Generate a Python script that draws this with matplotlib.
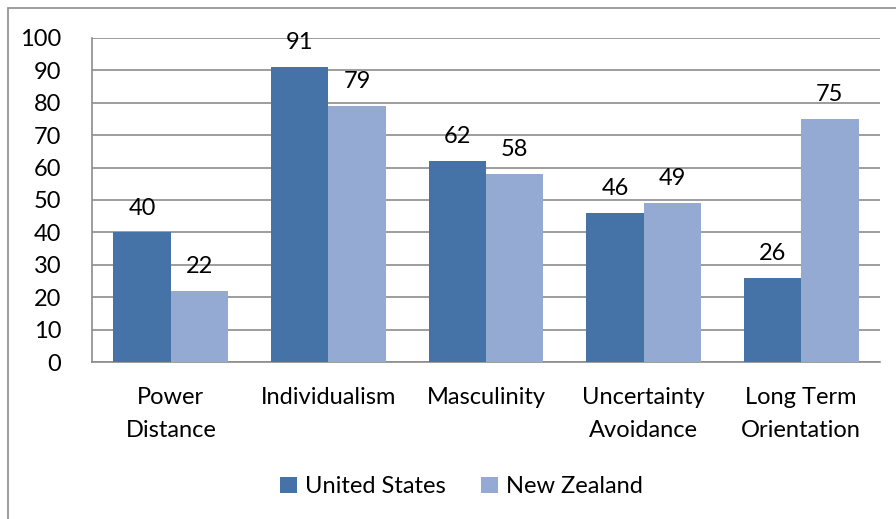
import matplotlib.pyplot as plt
import numpy as np
from matplotlib.patches import Rectangle

categories = ['Power\nDistance', 'Individualism', 'Masculinity', 'Uncertainty\nAvoidance', 'Long Term\nOrientation']
us_values = [40, 91, 62, 46, 26]
nz_values = [22, 79, 58, 49, 75]
series_names = ['United States', 'New Zealand']
colors = ['#4573A7', '#94AAD2']

plt.rcParams['font.family'] = ['Lato', 'DejaVu Sans']
fs = 17

fig = plt.figure(figsize=(8.96, 5.19), dpi=100)
ax = fig.add_axes([0.1027, 0.3025, 0.8795, 0.6243])

# figure border (only left/top visible in the reference)
fig.patches.append(Rectangle((8 / 896, -0.1), 1.2, 1.1 - 8 / 519, transform=fig.transFigure,
                             fill=False, edgecolor='#8c8c8c', linewidth=1.2))

x = np.arange(len(categories))
w = 0.364
b1 = ax.bar(x - w / 2, us_values, w, color=colors[0], label=series_names[0], zorder=3)
b2 = ax.bar(x + w / 2, nz_values, w, color=colors[1], label=series_names[1], zorder=3)

for bars in (b1, b2):
    for rect in bars:
        h = rect.get_height()
        ax.annotate(f'{h:.0f}', (rect.get_x() + rect.get_width() / 2, h),
                    xytext=(0, 10), textcoords='offset points',
                    ha='center', va='bottom', fontsize=fs, color='black')

ax.set_xlim(-0.5, len(categories) - 0.5)
ax.set_ylim(0, 100)
ax.set_yticks(range(0, 101, 10))
ax.yaxis.grid(True, color='#8c8c8c', linewidth=1.2, zorder=0)
ax.set_axisbelow(True)
ax.set_xticks(x)
ax.set_xticklabels(categories, fontsize=fs, linespacing=1.7)
ax.tick_params(axis='x', length=0, pad=18)
ax.tick_params(axis='y', length=0, pad=22, labelsize=fs)
for lbl in ax.get_yticklabels():
    lbl.set_horizontalalignment('right')

for s in ['top', 'right']:
    ax.spines[s].set_visible(False)
ax.spines['left'].set_color('#8c8c8c')
ax.spines['bottom'].set_color('#8c8c8c')
ax.spines['left'].set_linewidth(1.2)
ax.spines['bottom'].set_linewidth(1.2)

fig.legend(loc='center', bbox_to_anchor=(0.515, 0.062), ncol=2, frameon=False,
           fontsize=fs, handlelength=0.7, handleheight=0.7, columnspacing=1.5, handletextpad=0.35)

fig.savefig('out.png', dpi=100)
